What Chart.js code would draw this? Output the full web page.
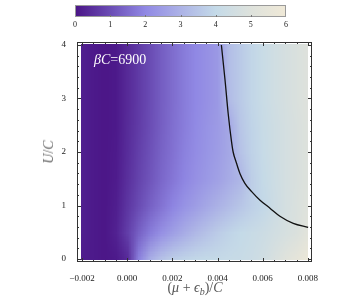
<!DOCTYPE html>
<html><head><meta charset="utf-8">
<script src="https://cdn.jsdelivr.net/npm/chart.js@4/dist/chart.umd.min.js"></script>
<style>
html,body{margin:0;padding:0;background:#fff;}
#wrap{position:relative;width:362px;height:307px;overflow:hidden;background:#fff;}
canvas{position:absolute;left:0;top:0;}
.t{position:absolute;font-family:"Liberation Serif","DejaVu Serif",serif;white-space:nowrap;line-height:1;}
</style></head><body>
<div id="wrap">
<canvas id="main" width="362" height="307"></canvas>
<canvas id="cb" width="362" height="40"></canvas>
<div class="t" id="bc" style="left:94px;top:53px;font-size:14px;color:#fff;"><i>β</i><i>C</i>=6900</div>
<div class="t" id="ytitle" style="left:49px;top:152px;font-size:14px;color:#666;transform:translate(-50%,-50%) rotate(-90deg);"><i>U</i>/<i>C</i></div>
<div class="t" id="xtitle" style="left:195px;top:289px;font-size:14px;color:#555;transform:translate(-50%,-50%);">(<i>μ</i> + <i>ϵ</i><sub style="font-size:10px;"><i>b</i></sub>)/<i>C</i></div>
</div>
<script>
// ---- data ----
const xCats = [-0.002,-0.0015,-0.001,-0.0005,0,0.0005,0.001,0.0015,0.002,0.0025,0.003,0.0035,0.004,0.0045,0.005,0.0055,0.006,0.0065,0.007,0.0075,0.008];
const uRows = [4,3.5,3,2.5,2,1.5,1,0.5,0];
const row_U4_0 = [0.2,0.1,0.05,0.1,0.4,0.7,1.0,1.3,1.55,1.8,2.0,2.2,2.4,3.3,3.6,3.9,4.2,4.45,4.65,4.85,5.05];
const row_U3_5 = [0.2,0.1,0.05,0.1,0.4,0.7,1.0,1.3,1.55,1.8,2.0,2.2,2.4,3.3,3.6,3.9,4.2,4.45,4.65,4.85,5.05];
const row_U3_0 = [0.2,0.1,0.05,0.1,0.4,0.7,1.0,1.3,1.55,1.8,2.0,2.2,2.4,3.25,3.6,3.9,4.2,4.45,4.65,4.85,5.05];
const row_U2_5 = [0.2,0.1,0.05,0.1,0.42,0.72,1.02,1.32,1.58,1.82,2.05,2.25,2.45,2.75,3.5,3.85,4.15,4.4,4.6,4.8,5.0];
const row_U2_0 = [0.2,0.1,0.05,0.12,0.45,0.78,1.08,1.38,1.62,1.88,2.1,2.3,2.5,2.75,3.4,3.8,4.1,4.4,4.6,4.8,5.0];
const row_U1_5 = [0.2,0.1,0.05,0.15,0.5,0.85,1.15,1.45,1.7,1.95,2.2,2.4,2.6,2.85,3.1,3.7,4.05,4.35,4.6,4.8,5.0];
const row_U1_0 = [0.2,0.1,0.05,0.2,0.6,1.0,1.35,1.65,1.95,2.25,2.5,2.75,3.0,3.25,3.5,3.75,3.95,4.3,4.6,4.85,5.1];
const row_U0_5 = [0.2,0.1,0.05,0.25,0.75,1.35,1.8,2.2,2.55,2.85,3.15,3.4,3.65,3.85,4.0,4.15,4.3,4.5,4.7,4.9,5.3];
const row_U0_0 = [0.15,0.1,0.05,0.1,0.4,1.9,2.9,3.4,3.7,3.85,3.95,4.0,4.05,4.1,4.15,4.25,4.45,4.75,5.1,5.45,5.8];
const contourX = [0.00417,0.00433,0.00447,0.00462,0.00469,0.00484,0.00499,0.00521,0.00551,0.00588,0.00632,0.00676,0.00735,0.00801];
const contourY = [4.0,3.35,2.72,2.19,2.0,1.79,1.60,1.415,1.26,1.10,0.95,0.80,0.667,0.59];
const xTicks = [-0.002,0,0.002,0.004,0.006,0.008];
const yTicks = [0,1,2,3,4];
const cbTicks = [0,1,2,3,4,5,6];

const grid = [row_U4_0,row_U3_5,row_U3_0,row_U2_5,row_U2_0,row_U1_5,row_U1_0,row_U0_5,row_U0_0];

// colour map (value 0..6)
const cmapStops = [[74,20,134],[106,76,180],[144,136,228],[172,178,230],[196,218,232],[222,226,220],[240,233,215]];
function cmap(v){
  v = Math.max(0, Math.min(6, v));
  const i = Math.min(5, Math.floor(v)), t = v - i;
  const a = cmapStops[i], b = cmapStops[i+1];
  return [0,1,2].map(k => Math.round(a[k] + (b[k]-a[k])*t));
}
const SERIF = '"Liberation Serif","DejaVu Serif",serif';

const heatPlugin = {
  id:'heat',
  beforeDatasetsDraw(chart){
    const {ctx, scales:{x, y}} = chart;
    const nx = xCats.length, ny = uRows.length;
    const off = document.createElement('canvas');
    off.width = nx; off.height = ny;
    const octx = off.getContext('2d');
    const img = octx.createImageData(nx, ny);
    for (let j=0;j<ny;j++) for (let i=0;i<nx;i++){
      const c = cmap(grid[j][i]); const p = (j*nx+i)*4;
      img.data[p]=c[0]; img.data[p+1]=c[1]; img.data[p+2]=c[2]; img.data[p+3]=255;
    }
    octx.putImageData(img,0,0);
    const dx = xCats[1]-xCats[0], du = uRows[0]-uRows[1];
    const L = x.getPixelForValue(xCats[0]-dx/2), R = x.getPixelForValue(xCats[nx-1]+dx/2);
    const T = y.getPixelForValue(uRows[0]+du/2), B = y.getPixelForValue(uRows[ny-1]-du/2);
    const cL = x.getPixelForValue(-0.00204), cR = x.getPixelForValue(0.008);
    const cT = y.getPixelForValue(4.02), cB = y.getPixelForValue(-0.02);
    ctx.save();
    ctx.beginPath(); ctx.rect(cL, cT, cR-cL, cB-cT); ctx.clip();
    ctx.imageSmoothingEnabled = true;
    ctx.drawImage(off, L, T, R-L, B-T);
    ctx.restore();
  },
  afterDraw(chart){
    const {ctx, chartArea:a, scales:{x, y}} = chart;
    ctx.save();
    ctx.strokeStyle = '#333'; ctx.lineWidth = 1;
    ctx.strokeRect(Math.round(a.left)+0.5, Math.round(a.top)+0.5, Math.round(a.right-a.left)-1, Math.round(a.bottom-a.top)-1);
    ctx.beginPath();
    const xt = (v, len) => { const px = Math.round(x.getPixelForValue(v))+0.5;
      ctx.moveTo(px, a.bottom); ctx.lineTo(px, a.bottom-len);
      ctx.moveTo(px, a.top); ctx.lineTo(px, a.top+len); };
    const yt = (v, len) => { const py = Math.round(y.getPixelForValue(v))+0.5;
      ctx.moveTo(a.left, py); ctx.lineTo(a.left+len, py);
      ctx.moveTo(a.right, py); ctx.lineTo(a.right-len, py); };
    for (let k=-4;k<=16;k++){ const v = k*0.0005; xt(v, k%4===0 ? 4 : 2); }
    for (let k=0;k<=20;k++){ const v = k*0.2; yt(v, k%5===0 ? 4 : 2); }
    ctx.stroke();
    ctx.restore();
  }
};

function fmtX(v){
  if (Math.abs(v) < 1e-12) return '0.000';
  return (v<0 ? '\u2212' : '') + Math.abs(v).toFixed(3);
}

new Chart(document.getElementById('main'), {
  type:'scatter',
  data:{ datasets:[{
    data: contourX.map((vx,i)=>({x:vx, y:contourY[i]})),
    showLine:true, borderColor:'#111', borderWidth:1.3, pointRadius:0,
    cubicInterpolationMode:'monotone', fill:false
  }]},
  options:{
    responsive:false, animation:false, devicePixelRatio:1,
    layout:{padding:{left:0, top:42, right:50, bottom:0}},
    plugins:{legend:{display:false}, tooltip:{enabled:false}},
    scales:{
      x:{type:'linear', min:-0.00222, max:0.00818,
        afterBuildTicks:s=>{ s.ticks = xTicks.map(v=>({value:v})); },
        afterFit:s=>{ s.height = 45; },
        ticks:{callback:v=>fmtX(v), font:{family:SERIF, size:9}, color:'#222', padding:3, maxRotation:0, autoSkip:false},
        grid:{display:false}, border:{display:false}},
      y:{type:'linear', min:-0.056, max:4.056,
        afterBuildTicks:s=>{ s.ticks = yTicks.map(v=>({value:v})); },
        afterFit:s=>{ s.width = 77; },
        ticks:{callback:v=>String(v), font:{family:SERIF, size:9}, color:'#222', padding:3, autoSkip:false},
        grid:{display:false}, border:{display:false}}
    }
  },
  plugins:[heatPlugin]
});

const cbPlugin = {
  id:'cbar',
  beforeDatasetsDraw(chart){
    const {ctx, chartArea:a, scales:{x}} = chart;
    const g = ctx.createLinearGradient(x.getPixelForValue(cbTicks[0]),0,x.getPixelForValue(cbTicks[cbTicks.length-1]),0);
    cbTicks.forEach((v,i)=>{ const c = cmap(v); g.addColorStop(i/(cbTicks.length-1), `rgb(${c[0]},${c[1]},${c[2]})`); });
    ctx.save();
    ctx.fillStyle = g; ctx.fillRect(a.left, a.top, a.right-a.left, a.bottom-a.top);
    ctx.strokeStyle = '#9a9a9a'; ctx.lineWidth = 1;
    ctx.strokeRect(Math.round(a.left)+0.5, Math.round(a.top)+0.5, Math.round(a.right-a.left)-1, Math.round(a.bottom-a.top)-1);
    ctx.beginPath();
    cbTicks.slice(1,-1).forEach(v=>{ const px = Math.round(x.getPixelForValue(v))+0.5; ctx.moveTo(px, a.bottom); ctx.lineTo(px, a.bottom-2); });
    ctx.strokeStyle = '#777'; ctx.stroke();
    ctx.restore();
  }
};

new Chart(document.getElementById('cb'), {
  type:'scatter',
  data:{datasets:[{data:[]}]},
  options:{
    responsive:false, animation:false, devicePixelRatio:1,
    layout:{padding:{left:75, top:5, right:76, bottom:0}},
    plugins:{legend:{display:false}, tooltip:{enabled:false}},
    scales:{
      x:{type:'linear', min:0, max:6,
        afterBuildTicks:s=>{ s.ticks = cbTicks.map(v=>({value:v})); },
        afterFit:s=>{ s.height = 23; },
        ticks:{callback:v=>String(v), font:{family:SERIF, size:8}, color:'#222', padding:-5, maxRotation:0, autoSkip:false},
        grid:{display:false}, border:{display:false}},
      y:{display:false, min:0, max:1}
    }
  },
  plugins:[cbPlugin]
});
</script>
</body></html>
